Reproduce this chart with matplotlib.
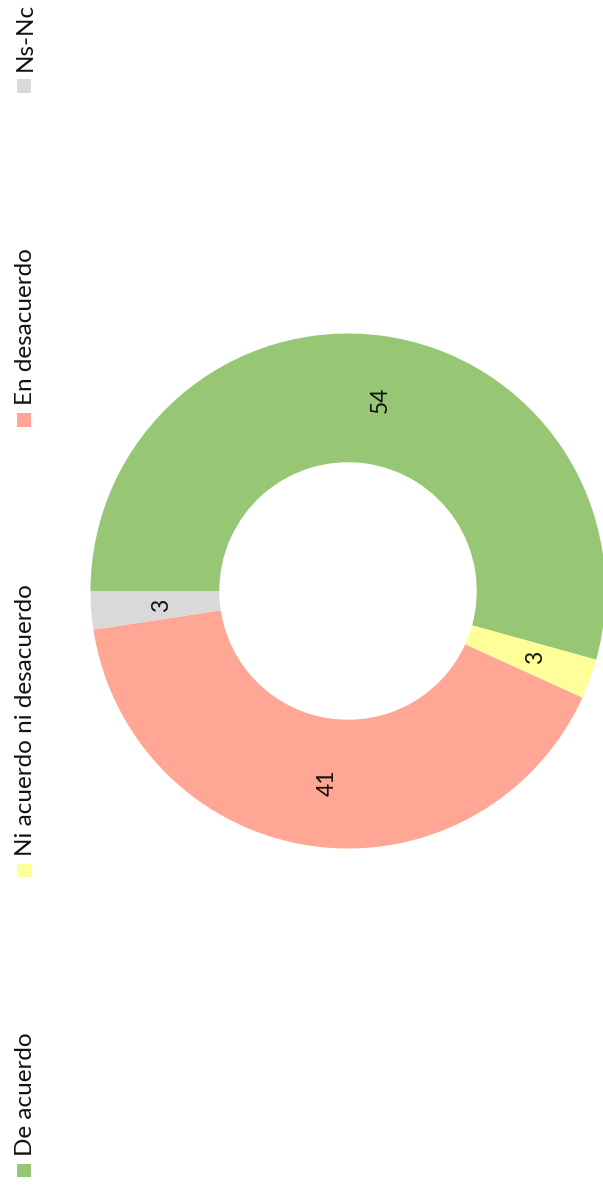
import matplotlib
matplotlib.use("Agg")
import matplotlib.pyplot as plt
from matplotlib.patches import Rectangle
import numpy as np

# ---- data ----
categories = ["De acuerdo", "Ni acuerdo ni desacuerdo", "En desacuerdo", "Ns-Nc"]
shares = [54.3, 2.5, 40.8, 2.4]          # slice sizes (%)
shown_labels = ["54", "3", "41", "3"]    # labels printed on the slices
colors = ["#97C775", "#FFFF99", "#FFA794", "#D9D9D9"]

# ---- layout ----
W, H = 603, 1192
DPI = 100
FONT = ["Lato", "DejaVu Sans"]
plt.rcParams["font.family"] = FONT

fig = plt.figure(figsize=(W / DPI, H / DPI), dpi=DPI)
fig.patch.set_facecolor("white")

cx, cy, R = 348.0, 591.0, 257.5   # donut centre and radius in pixels (from top)
ax = fig.add_axes([(cx - R) / W, (H - cy - R) / H, 2 * R / W, 2 * R / H])

wedges, _ = ax.pie(shares, colors=colors, startangle=180, counterclock=False,
                   radius=1.0, wedgeprops=dict(width=0.5, edgecolor="none"))
ax.set_xlim(-1, 1)
ax.set_ylim(-1, 1)
ax.set_aspect("equal")
ax.axis("off")

for w, lab in zip(wedges, shown_labels):
    th = np.deg2rad((w.theta1 + w.theta2) / 2)
    r = 0.75
    ax.annotate(lab, (r * np.cos(th), r * np.sin(th)), xytext=(4.3, 0),
                textcoords="offset points", rotation=90, ha="center",
                va="center", fontsize=16.5, color="#111111",
                rotation_mode="anchor")

# ---- manual legend (rotated, vertical) ----
sq = 13.5
legend_square_bottom = [1177, 877, 426.5, 92.5]   # px from top
sq_x = 17.0
for name, col, yb in zip(categories, colors, legend_square_bottom):
    fig.patches.append(Rectangle((sq_x / W, (H - yb) / H), sq / W, sq / H,
                                 transform=fig.transFigure, facecolor=col,
                                 edgecolor="none"))
    fig.text(31.5 / W, (H - yb + sq + 8) / H, name, rotation=90,
             rotation_mode="anchor", ha="left", va="baseline",
             fontsize=17.5, color="#111111")

fig.savefig("out.png", dpi=DPI, facecolor="white")
